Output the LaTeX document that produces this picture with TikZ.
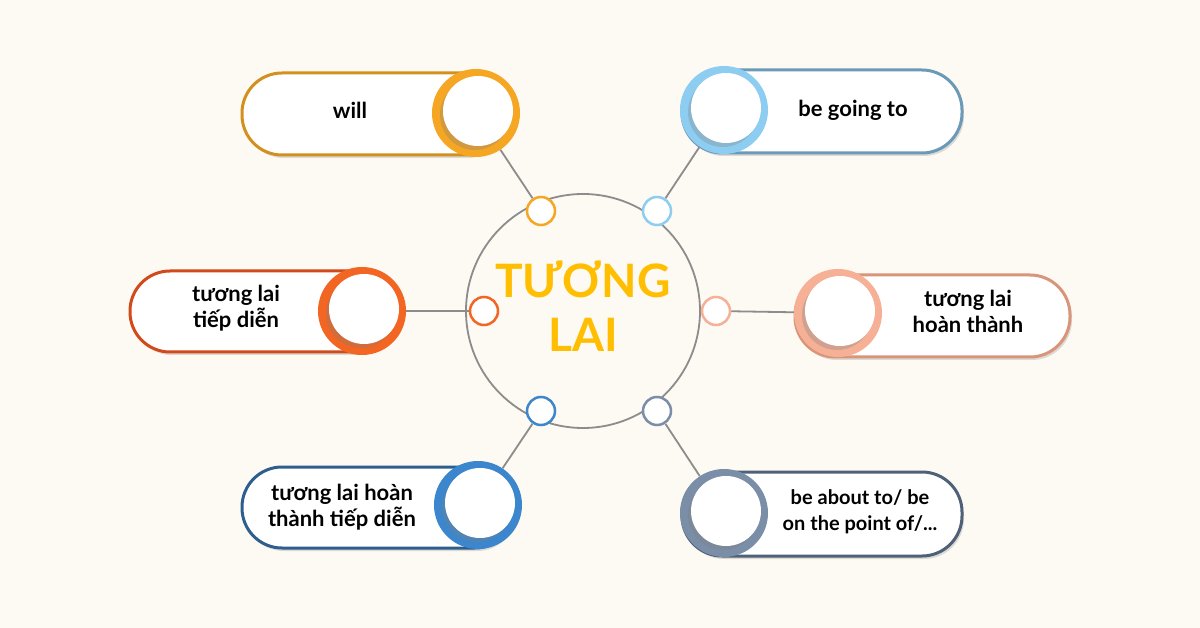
\documentclass[tikz,border=0pt]{standalone}
\usepackage{fontspec}
\setmainfont{Lato}
\usetikzlibrary{shadows}
\begin{document}
\begin{tikzpicture}[x=1pt,y=-1pt,
 pill/.style={draw=#1,line width=3pt,fill=white,rounded corners=40pt,drop shadow={opacity=0.25,shadow xshift=2pt,shadow yshift=-3pt}},
 ring/.style={circle,fill=#1,minimum size=88pt,inner sep=0pt},
 inner/.style={circle,fill=white,minimum size=70pt,inner sep=0pt,drop shadow={opacity=0.3,shadow xshift=-3pt,shadow yshift=-4pt}},
 dot/.style={circle,draw=#1,line width=2.5pt,fill=white,minimum size=28pt,inner sep=0pt},
 lbl/.style={font=\bfseries\fontsize{22}{26}\selectfont,align=center,text=black},
 conn/.style={draw=gray!90,line width=1.8pt}]
\definecolor{bg}{HTML}{FDF9F3}
\definecolor{cA}{HTML}{F5A623}\definecolor{bA}{HTML}{D4901F}
\definecolor{cB}{HTML}{8DCDF2}\definecolor{bB}{HTML}{6A9AB8}
\definecolor{cC}{HTML}{F26522}\definecolor{bC}{HTML}{D2491A}
\definecolor{cD}{HTML}{F5B096}\definecolor{bD}{HTML}{D8957A}
\definecolor{cE}{HTML}{3B86CC}\definecolor{bE}{HTML}{2E5E8E}
\definecolor{cF}{HTML}{7A8EA8}\definecolor{bF}{HTML}{4E6178}
\fill[bg] (0,0) rectangle (1200,628);
\useasboundingbox (0,0) rectangle (1200,628);
% center
\node[circle,draw=gray!90,line width=1.8pt,minimum size=234pt,inner sep=0pt] (c) at (583,311) {};
\node[font=\bfseries\fontsize{46}{54}\selectfont,text={rgb,255:red,255;green,190;blue,0},align=center] (t) at (583,306) {TƯƠNG\\LAI};
% small dots
\node[dot=cA] (d1) at (541,211) {};
\node[dot=cB] (d2) at (657,211) {};
\node[dot=cC] (d3) at (484,311) {};
\node[dot=cD] (d4) at (716,311) {};
\node[dot=cE] (d5) at (541,411) {};
\node[dot=cF] (d6) at (657,411) {};
% pills
\draw[pill=bA] (242,73) rectangle (505,155);
\draw[pill=bB] (682,70) rectangle (962,153);
\draw[pill=bC] (130,271) rectangle (398,352);
\draw[pill=bD] (795,275) rectangle (1070,357);
\draw[pill=bE] (242,467) rectangle (515,548);
\draw[pill=bF] (682,472) rectangle (962,556);
% big circles
\node[ring=cA] (r1) at (476,113) {}; \node[inner] (i1) at (478,111) {};
\node[ring=cB] (r2) at (724,110) {}; \node[inner] (i2) at (726,108) {};
\node[ring=cC] (r3) at (362,311) {}; \node[inner] (i3) at (364,309) {};
\node[ring=cD] (r4) at (838,313) {}; \node[inner] (i4) at (840,311) {};
\node[ring=cE] (r5) at (478,505) {}; \node[inner] (i5) at (480,503) {};
\node[ring=cF] (r6) at (724,513) {}; \node[inner] (i6) at (726,511) {};
% labels
\node[lbl] (l1) at (350,110) {will};
\node[lbl] (l2) at (853,110) {be going to};
\node[lbl] (l3) at (236,308) {tương lai\\tiếp diễn};
\node[lbl] (l4) at (968,311) {tương lai\\hoàn thành};
\node[lbl] (l5) at (342,507) {tương lai hoàn\\thành tiếp diễn};
\node[lbl,font=\bfseries\fontsize{20}{26}\selectfont] (l6) at (860,512) {be about to/ be\\on the point of/...};
% connectors
\path[conn] (r1) -- (d1);
\path[conn] (r2) -- (d2);
\path[conn] (r3) -- (d3);
\path[conn] (r4) -- (d4);
\path[conn] (r5) -- (d5);
\path[conn] (r6) -- (d6);
\end{tikzpicture}
\end{document}
